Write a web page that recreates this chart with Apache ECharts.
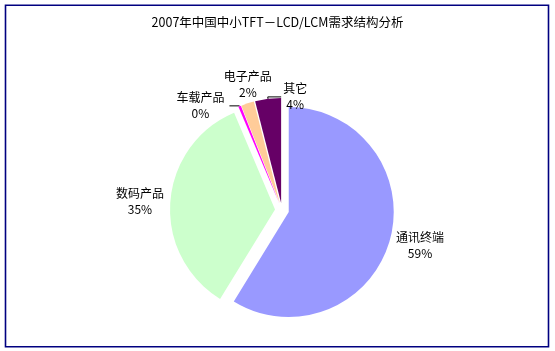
<!DOCTYPE html>
<html>
<head>
<meta charset="utf-8">
<script src="https://cdn.jsdelivr.net/npm/echarts@6/dist/echarts.min.js"></script>
<style>
  html, body { margin: 0; padding: 0; background: #fff; }
  #chart { width: 555px; height: 351px; }
</style>
</head>
<body>
<div id="chart"></div>
<script>
// 2007年中国中小TFT-LCD/LCM需求结构 (%)
const categories = ['通讯终端', '数码产品', '车载产品', '电子产品', '其它'];
const shares = [59, 35, 0.4, 2, 4];
const sliceColors = ['#9999FF', '#CCFFCC', '#FF00FF', '#FFCC99', '#660066'];

// label placement per slice: leader length, second leg, gap to text
const lineLen = [16.7, 8, 0.5, 20.4, 2];
const lineLen2 = [9.2, 17.4, 10, -11.6, -13.4];
const textGap = [5, 5, 29, 5, -14];
const showLine = [false, false, true, false, true];

const myChart = echarts.init(document.getElementById('chart'));

const seriesData = categories.map((name, i) => ({
  name: name,
  value: shares[i],
  selected: true,
  itemStyle: { color: sliceColors[i] },
  label: { distanceToLabelLine: textGap[i] },
  labelLine: { show: showLine[i], length: lineLen[i], length2: lineLen2[i] }
}));

myChart.setOption({
  animation: false,
  backgroundColor: '#fff',
  title: {
    text: '2007年中国中小TFT－LCD/LCM需求结构分析',
    left: 'center',
    top: 11,
    textStyle: {
      fontFamily: 'Noto Sans CJK SC',
      fontSize: 12.5,
      fontWeight: 'normal',
      color: '#000'
    }
  },
  graphic: [{
    type: 'rect',
    shape: { x: 5.5, y: 5.3, width: 543, height: 341.4 },
    style: { fill: 'none', stroke: '#000080', lineWidth: 1.6 },
    silent: true
  }],
  series: [{
    type: 'pie',
    center: [282, 210],
    radius: 105,
    startAngle: 90,
    clockwise: true,
    selectedMode: 'multiple',
    selectedOffset: 7,
    percentPrecision: 0,
    avoidLabelOverlap: false,
    emphasis: { disabled: true },
    select: { itemStyle: {} },
    label: {
      show: true,
      position: 'outside',
      formatter: '{b}\n{d}%',
      fontFamily: 'Noto Sans CJK SC',
      fontSize: 12,
      lineHeight: 16,
      color: '#000'
    },
    labelLine: {
      show: true,
      minTurnAngle: 0,
      maxSurfaceAngle: 180,
      lineStyle: { color: '#000', width: 1 }
    },
    labelLayout: { align: 'center', verticalAlign: 'middle', hideOverlap: false, moveOverlap: null },
    data: seriesData
  }]
});
</script>
</body>
</html>
